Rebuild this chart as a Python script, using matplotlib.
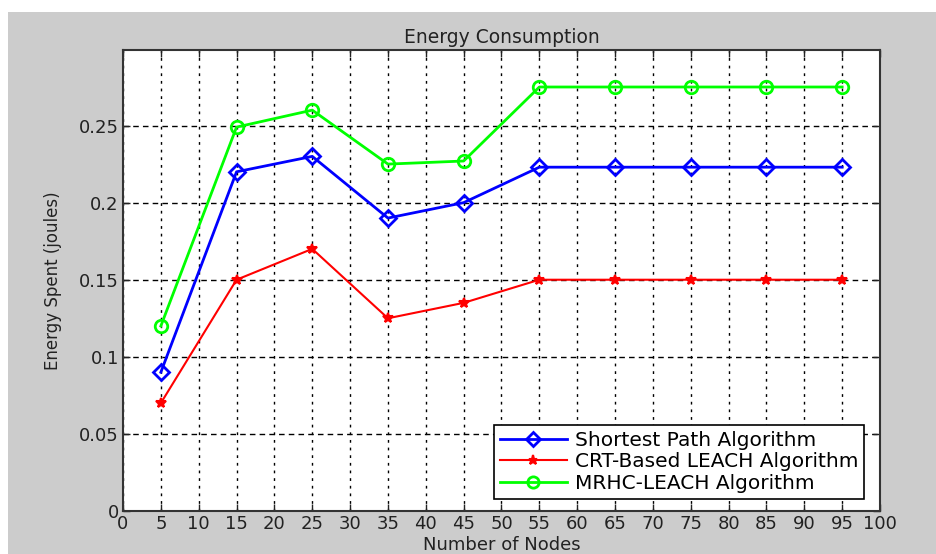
import numpy as np
import matplotlib.pyplot as plt
from matplotlib.patches import Rectangle

plt.rcParams['font.family'] = ['DejaVu Sans']

# Daten
nodes = [5, 15, 25, 35, 45, 55, 65, 75, 85, 95]
shortest_path = [0.09, 0.22, 0.23, 0.19, 0.20, 0.223, 0.223, 0.223, 0.223, 0.223]
crt_leach = [0.07, 0.15, 0.17, 0.125, 0.135, 0.15, 0.15, 0.15, 0.15, 0.15]
mrhc_leach = [0.12, 0.249, 0.26, 0.225, 0.227, 0.275, 0.275, 0.275, 0.275, 0.275]

x_ticks = np.arange(0, 101, 5)
y_ticks = [0, 0.05, 0.1, 0.15, 0.2, 0.25]
y_labels = ['0', '0.05', '0.1', '0.15', '0.2', '0.25']

fig = plt.figure(figsize=(9.37, 5.54), dpi=100, facecolor='white')
# grauer Hintergrund wie im MATLAB-Fenster
fig.patches.append(Rectangle((8 / 937, 0), 1 - 8 / 937, 1 - 12 / 554,
                             transform=fig.transFigure, facecolor='#cccccc',
                             edgecolor='none', zorder=-10))

ax = fig.add_axes([123 / 937, 43 / 554, 757 / 937, 461 / 554])
ax.set_facecolor('white')

ax.plot(nodes, shortest_path, '-D', color='#0000ff', lw=2, ms=8,
        mfc='none', mew=2, label='Shortest Path Algorithm')
ax.plot(nodes, crt_leach, '-*', color='#ff0000', lw=1.5, ms=7.5,
        mew=1.5, label='CRT-Based LEACH Algorithm')
ax.plot(nodes, mrhc_leach, '-o', color='#00ff00', lw=2, ms=9,
        mfc='none', mew=2, label='MRHC-LEACH Algorithm')

ax.set_xlim(0, 100)
ax.set_ylim(0, 0.299)
ax.set_xticks(x_ticks)
ax.set_yticks(y_ticks)
ax.set_yticklabels(y_labels)

ax.xaxis.grid(True, color='black', lw=1, linestyle=(0, (2, 3.5)))
ax.yaxis.grid(True, color='black', lw=1, linestyle=(0, (4, 3)))
ax.set_axisbelow(True)

ax.tick_params(direction='in', top=True, right=True, length=5,
               labelsize=13, colors='#222222', width=1, pad=3)
for s in ax.spines.values():
    s.set_color('#333333')
    s.set_linewidth(1.5)

ax.set_title('Energy Consumption', fontsize=13.5, color='#222222', pad=5)
ax.set_xlabel('Number of Nodes', fontsize=13, color='#222222', labelpad=2)
ax.set_ylabel('Energy Spent (joules)', fontsize=12, color='#222222', labelpad=12)

leg = ax.legend(loc='lower right', fontsize=14.5, fancybox=False,
                edgecolor='black', framealpha=1, markerscale=0.9,
                handlelength=3.3, handletextpad=0.4, borderaxespad=0.6,
                labelspacing=0.12, borderpad=0.3,
                bbox_to_anchor=(0.995, 0.0))
leg.get_frame().set_linewidth(1.2)

plt.savefig('out.png', dpi=100, facecolor=fig.get_facecolor())
